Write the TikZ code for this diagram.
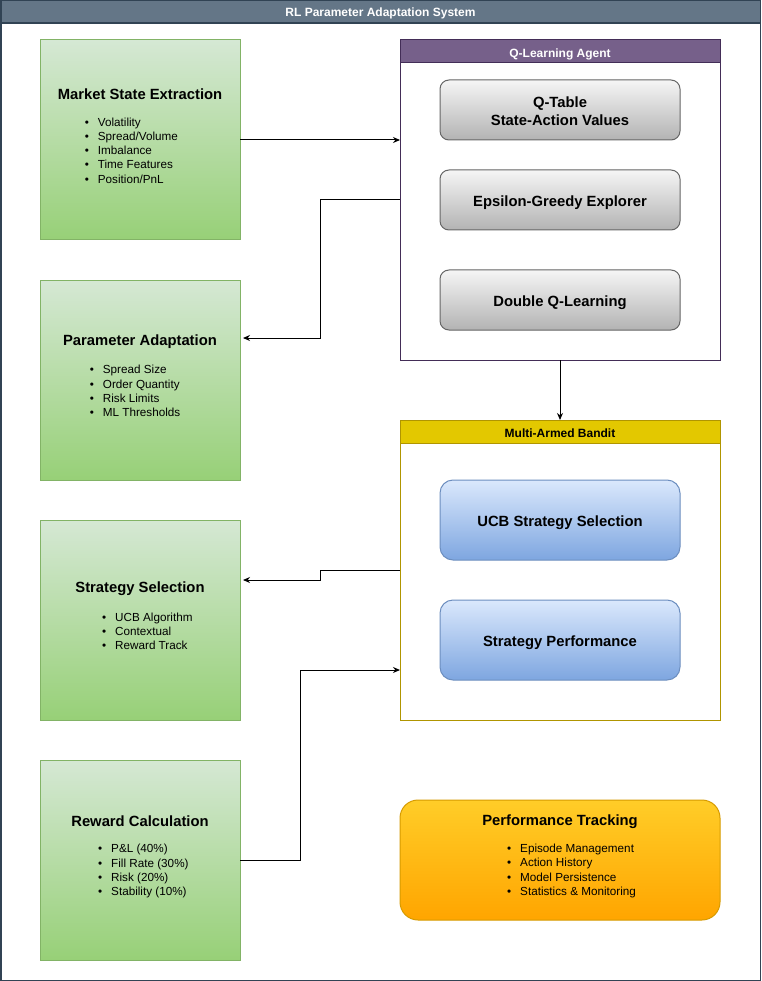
\documentclass[tikz,border=0pt]{standalone}
\usepackage{fontspec}
\setmainfont{Liberation Sans}
\usepackage{xcolor}
\definecolor{framedark}{RGB}{49, 67, 84}
\definecolor{framehead}{RGB}{100, 118, 135}
\definecolor{greentop}{RGB}{213, 232, 212}
\definecolor{greenbot}{RGB}{151, 208, 119}
\definecolor{greenline}{RGB}{130, 179, 102}
\definecolor{graytop}{RGB}{245, 245, 245}
\definecolor{graybot}{RGB}{179, 179, 179}
\definecolor{grayline}{RGB}{102, 102, 102}
\definecolor{bluetop}{RGB}{218, 232, 252}
\definecolor{bluebot}{RGB}{126, 166, 224}
\definecolor{blueline}{RGB}{108, 142, 191}
\definecolor{orangetop}{RGB}{255, 205, 40}
\definecolor{orangebot}{RGB}{255, 165, 0}
\definecolor{orangeline}{RGB}{215, 155, 0}
\definecolor{agentfill}{RGB}{118, 96, 138}
\definecolor{agentline}{RGB}{67, 45, 87}
\definecolor{banditfill}{RGB}{227, 200, 0}
\definecolor{banditline}{RGB}{176, 149, 0}
\usetikzlibrary{arrows.meta, positioning, calc}
\newcommand{\bul}{\makebox[13pt][l]{\textbullet}}

\begin{document}
\begin{tikzpicture}[x=1pt, y=-1pt, >={Stealth[length=7pt, width=6pt]},
    greenbox/.style={draw=greenline, line width=1pt, top color=greentop, bottom color=greenbot,
        minimum width=200pt, minimum height=200pt, inner sep=0pt, outer sep=0pt},
    graybox/.style={draw=grayline, line width=1pt, top color=graytop, bottom color=graybot,
        rounded corners=9pt, minimum width=240pt, minimum height=60pt, align=center, outer sep=0pt,
        text height=12.5pt, text depth=0pt, font=\fontsize{14.8}{18}\selectfont\bfseries},
    bluebox/.style={draw=blueline, line width=1pt, top color=bluetop, bottom color=bluebot,
        rounded corners=13pt, minimum width=240pt, minimum height=80pt, outer sep=0pt,
        text height=12.5pt, text depth=0pt, font=\fontsize{14.8}{18}\selectfont\bfseries},
    container/.style={draw=#1, line width=1pt, fill=white, minimum width=320pt, inner sep=0pt, outer sep=0pt},
    headbar/.style={draw=#1, line width=1pt, fill=#1, minimum width=320pt, minimum height=23pt,
        inner sep=0pt, outer sep=0pt, text height=11.5pt, text depth=0pt,
        font=\fontsize{12}{14}\selectfont\bfseries},
    boxtitle/.style={font=\fontsize{14.8}{18}\selectfont\bfseries, inner sep=0pt},
    items/.style={font=\fontsize{11.7}{14.3}\selectfont, align=left, inner sep=0pt, anchor=west},
    flow/.style={->, line width=1pt, black}]

    \useasboundingbox (0,0) rectangle (761,981);

    % Outer frame and title bar
    \draw[framedark, line width=1.5pt, fill=white] (0.75,0.75) rectangle (760.25,980.25);
    \draw[framedark, line width=1.5pt, fill=framehead] (0.75,0.75) rectangle (760.25,23);
    \node[text=white, font=\fontsize{12}{14}\selectfont\bfseries] (systitle) at (380.5,13)
        {RL Parameter Adaptation System};

    % Left column (green stages)
    \node[greenbox] (market) at (140,140) {};
    \node[greenbox, below=40pt of market] (param) {};
    \node[greenbox, below=40pt of param] (strat) {};
    \node[greenbox, below=40pt of strat] (reward) {};

    \node[boxtitle] (markettitle) at (140,94) {Market State Extraction};
    \node[items] (marketlist) at (84.7,150.5)
        {\bul Volatility\\ \bul Spread/Volume\\ \bul Imbalance\\ \bul Time Features\\ \bul Position/PnL};

    \node[boxtitle] (paramtitle) at (140,341.5) {Parameter Adaptation};
    \node[items] (paramlist) at (89.7,391.2)
        {\bul Spread Size\\ \bul Order Quantity\\ \bul Risk Limits\\ \bul ML Thresholds};

    \node[boxtitle] (strattitle) at (140,588.8) {Strategy Selection};
    \node[items] (stratlist) at (102,631.3)
        {\bul UCB Algorithm\\ \bul Contextual\\ \bul Reward Track};

    \node[boxtitle] (rewardtitle) at (140,821.5) {Reward Calculation};
    \node[items] (rewardlist) at (98,871.2)
        {\bul P\&L (40\%)\\ \bul Fill Rate (30\%)\\ \bul Risk (20\%)\\ \bul Stability (10\%)};

    % Q-Learning agent
    \node[container=agentline, minimum height=320pt] (qagent) at (560,200) {};
    \node[headbar=agentfill, draw=agentline, text=white, anchor=north] (qhead) at (qagent.north) {Q-Learning Agent};
    \node[graybox, text height=30.5pt] (qtable) at (560,110) {Q-Table\\State-Action Values};
    \node[graybox, below=30pt of qtable] (explorer) {Epsilon-Greedy Explorer};
    \node[graybox, below=40pt of explorer] (doubleq) {Double Q-Learning};

    % Multi-armed bandit
    \node[container=banditline, minimum height=300pt, below=60pt of qagent] (bandit) {};
    \node[headbar=banditfill, draw=banditline, text=black, anchor=north] (bhead) at (bandit.north) {Multi-Armed Bandit};
    \node[bluebox] (ucb) at (560,520) {UCB Strategy Selection};
    \node[bluebox, below=40pt of ucb] (stratperf) {Strategy Performance};

    % Performance tracking
    \node[draw=orangeline, line width=1pt, top color=orangetop, bottom color=orangebot, rounded corners=18pt,
        minimum width=320pt, minimum height=120pt, outer sep=0pt] (tracking) at (560,860) {};
    \node[boxtitle] (trackingtitle) at (560,821.5) {Performance Tracking};
    \node[items] (trackinglist) at (507,871)
        {\bul Episode Management\\ \bul Action History\\ \bul Model Persistence\\ \bul Statistics \& Monitoring};

    % Connectors
    \draw[flow] (market.east) -- (market.east -| qagent.west);
    \draw[flow, shorten >=3pt] (qagent.west) -- ++(-80,0) |- ([yshift=42pt]param.east);
    \draw[flow] (qagent.south) -- (bandit.north);
    \draw[flow, shorten >=3pt] (bandit.west) -- ++(-80,0) |- ([yshift=40pt]strat.east);
    \draw[flow] (reward.east) -- ++(60,0) |- ([yshift=-100pt]bandit.west);

\end{tikzpicture}
\end{document}
